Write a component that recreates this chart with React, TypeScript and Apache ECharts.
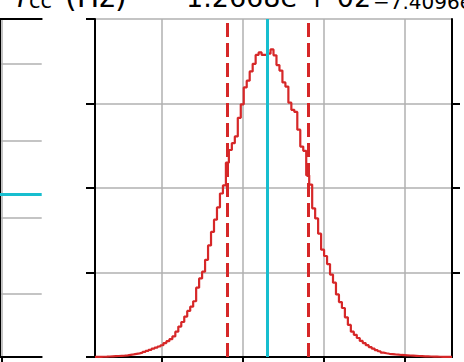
import React, { useEffect, useRef } from "react";
import * as echarts from "echarts";

// f_cc (Hz) posterior histogram, 120 bins
const binStart = 123.513;
const binEnd = 130.135;
const counts = [
  1, 2, 3, 4, 6, 8, 10, 12, 14, 16,
  20, 26, 31, 37, 43, 51, 61, 73, 85, 98,
  110, 124, 139, 165, 187, 211, 243, 300, 360, 414,
  478, 545, 596, 660, 820, 930, 1010, 1150, 1320, 1480,
  1625, 1770, 1935, 2030, 2300, 2450, 2530, 2610, 2830, 2990,
  3190, 3270, 3380, 3470, 3575, 3605, 3575, 3575, 3590, 3640,
  3570, 3455, 3390, 3250, 3200, 3010, 2925, 2900, 2690, 2490,
  2440, 2150, 2040, 1760, 1640, 1460, 1270, 1195, 1100, 975,
  880, 740, 650, 580, 470, 380, 300, 262, 225, 190,
  165, 140, 118, 100, 82, 68, 52, 44, 38, 34,
  30, 27, 24, 22, 20, 18, 16, 14, 12, 10,
  8, 7, 6, 5, 4, 3, 2, 2, 1, 1,
];
const fccTicks = [124.75, 126.25, 127.75, 129.25];
const countTicks = [0, 1000, 2000, 3000, 4000];
const countInnerTicks = [1000, 2000, 3000];
const countMax = 4000;
const quantiles = [125.96, 127.46];
const truth = 126.71;
const otherParamRange = [0, 1];
const otherParamTicks = [0.032];

const titleLabel = "(Hz)";
const titleValue = "1.2668e + 02";
const titleLower = "\u22127.4096e\u221201";

const GRID = "#b0b0b0";
const RED = "#d62728";
const CYAN = "#17becf";
const FONT = '"DejaVu Sans", sans-serif';

export default function App() {
  const ref = useRef<HTMLDivElement>(null);
  useEffect(() => {
    document.body.style.margin = "0";
    const chart = echarts.init(ref.current!, null, { renderer: "svg" });
    const w = (binEnd - binStart) / counts.length;
    const histData: number[][] = counts.map((c, i) => [binStart + i * w, c]);
    histData.push([binEnd, counts[counts.length - 1]]);

    const frame = { show: true, lineStyle: { color: "#000", width: 2 } };
    const noTick = { show: false };
    const noLabel = { show: false };
    const noSplit = { show: false };
    const tickStyle = { color: "#000", width: 2 };

    const textEl = (text: string, x: number, y: number, size: number, italic = false) => ({
      type: "text",
      x,
      y,
      silent: true,
      style: {
        text,
        font: `${italic ? "italic " : ""}${size}px ${FONT}`,
        fill: "#000",
        align: "left",
        verticalAlign: "middle",
        textAlign: "left",
        textVerticalAlign: "middle",
      },
    });

    chart.setOption({
      animation: false,
      backgroundColor: "#fff",
      grid: [
        { left: 95, top: 19, width: 357, height: 338, outerBoundsMode: "none" },
        { left: 0, top: 19, width: 41.7, height: 338, outerBoundsMode: "none" },
      ],
      xAxis: [
        {
          type: "value", gridIndex: 0, position: "bottom", min: binStart, max: binEnd,
          axisLine: frame,
          axisTick: { show: true, inside: false, length: 7, customValues: fccTicks, lineStyle: tickStyle },
          axisLabel: { show: false, customValues: fccTicks },
          splitLine: { show: true, lineStyle: { color: GRID, width: 1.5 } },
        },
        {
          type: "value", gridIndex: 0, position: "top", min: binStart, max: binEnd,
          axisLine: frame, axisTick: noTick, axisLabel: noLabel, splitLine: noSplit,
        },
        {
          type: "value", gridIndex: 1, position: "bottom", min: otherParamRange[0], max: otherParamRange[1],
          axisLine: frame,
          axisTick: { show: true, inside: false, length: 7, customValues: otherParamTicks, lineStyle: tickStyle },
          axisLabel: { show: false, customValues: otherParamTicks },
          splitLine: { show: true, lineStyle: { color: GRID, width: 1.5 } },
        },
        {
          type: "value", gridIndex: 1, position: "top", min: otherParamRange[0], max: otherParamRange[1],
          axisLine: frame, axisTick: noTick, axisLabel: noLabel, splitLine: noSplit,
        },
      ],
      yAxis: [
        {
          type: "value", gridIndex: 0, position: "left", min: 0, max: countMax, interval: countTicks[1] - countTicks[0],
          axisLine: frame,
          axisTick: { show: true, inside: false, length: 9, lineStyle: tickStyle },
          axisLabel: noLabel,
          splitLine: { show: true, lineStyle: { color: GRID, width: 1.5 } },
        },
        {
          type: "value", gridIndex: 0, position: "right", min: 0, max: countMax,
          axisLine: frame,
          axisTick: { show: true, inside: false, length: 8, customValues: countInnerTicks, lineStyle: tickStyle },
          axisLabel: { show: false, customValues: countInnerTicks },
          splitLine: noSplit,
        },
        {
          type: "value", gridIndex: 1, position: "left", min: binStart, max: binEnd,
          axisLine: { show: false },
          axisTick: { show: false, customValues: fccTicks },
          axisLabel: { show: false, customValues: fccTicks },
          splitLine: { show: true, lineStyle: { color: GRID, width: 1.5 } },
        },
        {
          type: "value", gridIndex: 1, position: "right", min: binStart, max: binEnd,
          axisLine: frame, axisTick: noTick, axisLabel: noLabel, splitLine: noSplit,
        },
      ],
      series: [
        {
          type: "line", xAxisIndex: 0, yAxisIndex: 0, step: "end", data: histData,
          symbol: "none", lineStyle: { color: RED, width: 2.2 }, silent: true, z: 3,
        },
        {
          type: "line", xAxisIndex: 0, yAxisIndex: 0, data: [], symbol: "none", silent: true, z: 4,
          markLine: {
            silent: true, symbol: ["none", "none"], label: { show: false },
            lineStyle: { color: RED, width: 3, type: [14, 6] },
            data: quantiles.map((q) => ({ xAxis: q })),
          },
        },
        {
          type: "line", xAxisIndex: 0, yAxisIndex: 0, data: [], symbol: "none", silent: true, z: 5,
          markLine: {
            silent: true, symbol: ["none", "none"], label: { show: false },
            lineStyle: { color: CYAN, width: 3, type: "solid" },
            data: [{ xAxis: truth }],
          },
        },
        {
          type: "line", xAxisIndex: 2, yAxisIndex: 2, data: [], symbol: "none", silent: true, z: 5,
          markLine: {
            silent: true, symbol: ["none", "none"], label: { show: false },
            lineStyle: { color: CYAN, width: 3, type: "solid" },
            data: [{ yAxis: truth }],
          },
        },
      ],
      graphic: [
        textEl("f", 16, -4, 30, true),
        textEl("cc", 29, 0.5, 21),
        textEl(titleLabel, 65, -4, 30),
        textEl("=", 156, -6, 30),
        textEl(titleValue, 186, -3, 27),
        textEl(titleLower, 373, 2, 20),
      ],
    });
    return () => chart.dispose();
  }, []);
  return <div ref={ref} style={{ width: 464, height: 362 }} />;
}
